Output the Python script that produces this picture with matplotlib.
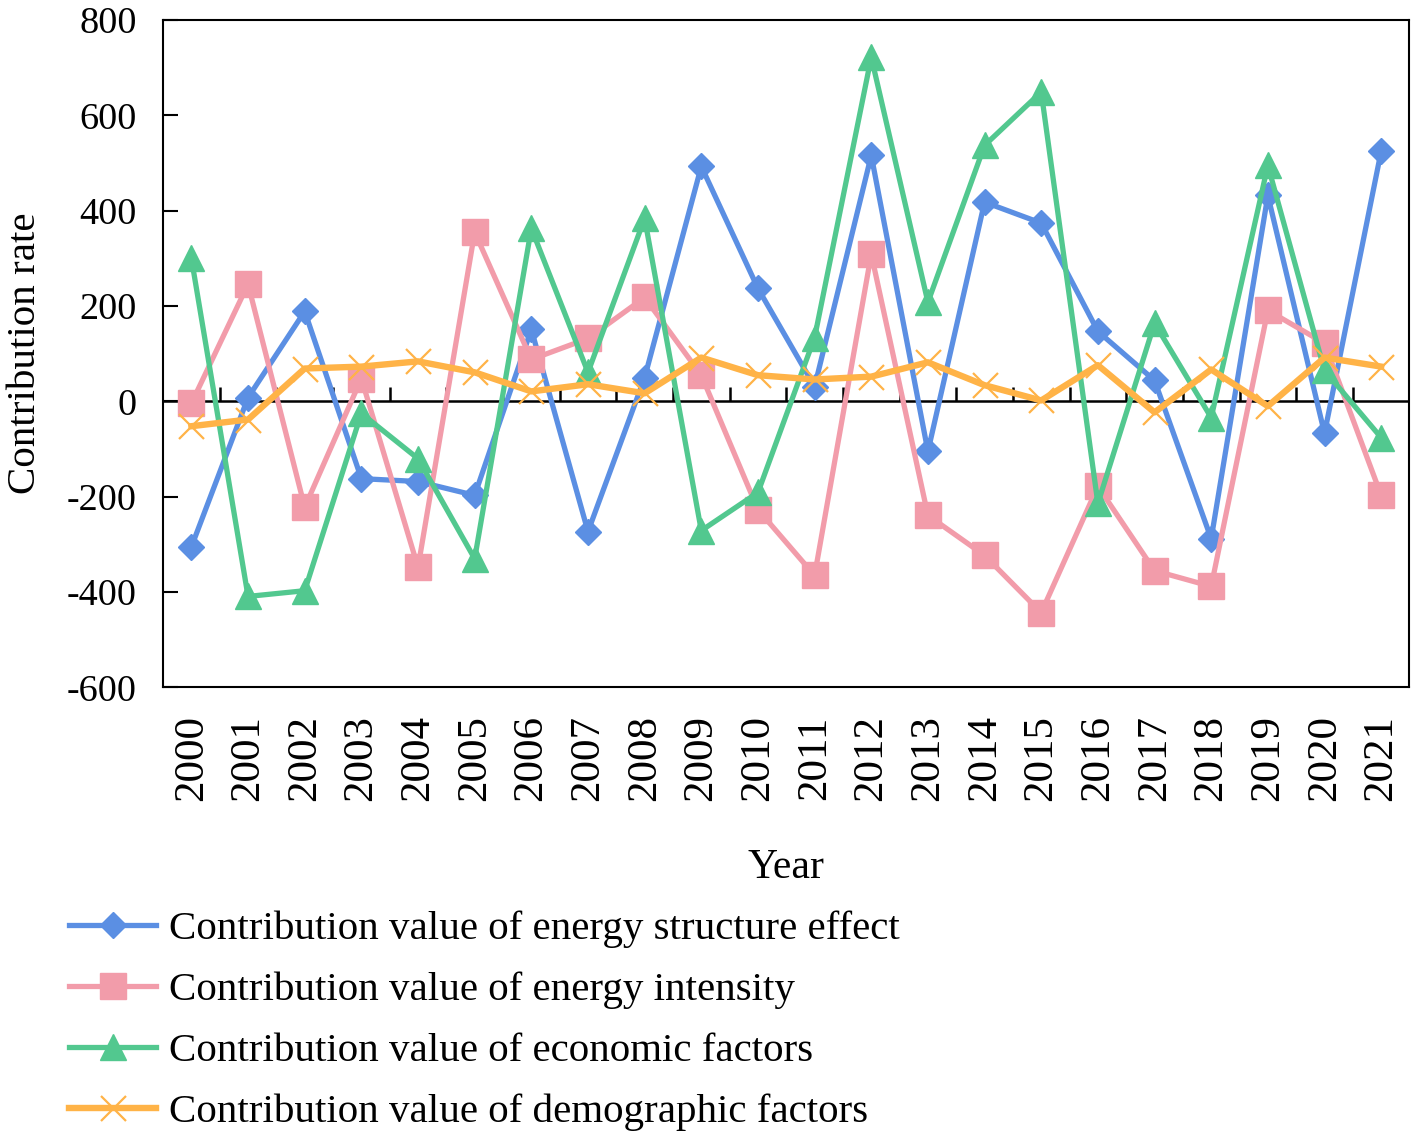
import numpy as np
import matplotlib.pyplot as plt

years = [str(y) for y in range(2000, 2022)]

energy_structure = [-305, 8, 189, -162, -168, -197, 151, -273, 50, 493, 237,
                    31, 516, -105, 418, 374, 147, 44, -288, 432, -67, 525]
energy_intensity = [-4, 246, -222, 48, -348, 355, 88, 132, 218, 55, -227,
                    -365, 309, -239, -323, -443, -178, -355, -388, 191, 122, -197]
economic = [300, -409, -397, -25, -120, -330, 363, 61, 384, -271, -191,
            134, 722, 208, 537, 649, -214, 164, -34, 495, 65, -76]
demographic = [-52, -38, 69, 73, 84, 61, 21, 36, 17, 92, 55,
               46, 52, 82, 34, 2, 76, -23, 67, -10, 92, 73]

labels = ['Contribution value of energy structure effect',
          'Contribution value of energy intensity',
          'Contribution value of economic factors',
          'Contribution value of demographic factors']

plt.rcParams['font.family'] = ['Liberation Serif', 'DejaVu Serif']
plt.rcParams['axes.unicode_minus'] = False

fig = plt.figure(figsize=(14.18, 11.42), dpi=100)
ax = fig.add_axes([0.115, 0.398, 0.879, 0.5845])

x = np.arange(len(years))
ax.plot(x, energy_structure, color='#5B8FE3', lw=3.8, marker='D', ms=13.5, label=labels[0])
ax.plot(x, energy_intensity, color='#F29CAA', lw=3.8, marker='s', ms=19, label=labels[1])
ax.plot(x, economic, color='#52C88F', lw=3.8, marker='^', ms=19, label=labels[2])
ax.plot(x, demographic, color='#FFB347', lw=4.6, marker='x', ms=18, mew=1.6, label=labels[3])

# zero line with category separators
ax.axhline(0, color='black', lw=1.8, zorder=1)
ax.vlines(np.arange(0.5, len(years) - 1, 1), 0, 30, color='black', lw=1.8, zorder=1)

ax.set_xlim(-0.5, len(years) - 0.5)
ax.set_ylim(-600, 800)
ax.set_yticks(range(-600, 801, 200))
ax.set_xticks(x)
ax.set_xticklabels(years, rotation=90)
ax.tick_params(axis='x', length=0, pad=20, labelsize=31)
ax.tick_params(axis='y', direction='in', length=11, width=1.5, pad=19, labelsize=27.5)
for s in ax.spines.values():
    s.set_linewidth(1.5)

ax.set_xlabel('Year', fontsize=30, labelpad=34)
ax.set_ylabel('Contribution rate', fontsize=29.5, labelpad=16)

fig.legend(loc='upper left', bbox_to_anchor=(0.049, 0.203), frameon=False,
           fontsize=29.5, handlelength=2.12, handletextpad=0.3, labelspacing=0.57,
           borderaxespad=0, borderpad=0)

fig.savefig('out.png', dpi=100)
